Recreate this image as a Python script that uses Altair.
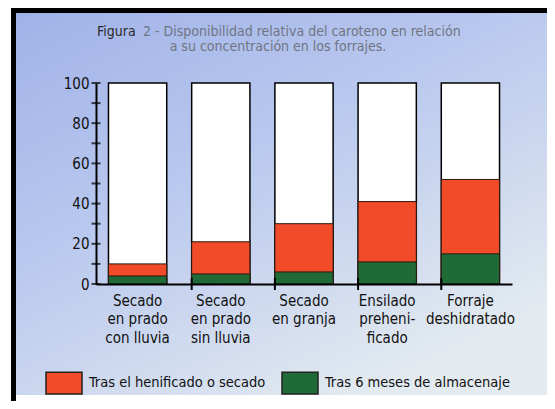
import altair as alt
import pandas as pd

categories = ["Secado|en prado|con lluvia", "Secado|en prado|sin lluvia",
              "Secado|en granja", "Ensilado|preheni-|ficado", "Forraje|deshidratado"]
red_vals = [10, 21, 30, 41, 52]      # Tras el henificado o secado
green_vals = [4, 5, 6, 11, 15]       # Tras 6 meses de almacenaje
total_vals = [100, 100, 100, 100, 100]
y_ticks = [0, 10, 20, 30, 40, 50, 60, 70, 80, 90, 100]
y_labels = [0, 20, 40, 60, 80, 100]
series = ["Tras el henificado o secado", "Tras 6 meses de almacenaje"]
title1a = "Figura"
title1b = "2 - Disponibilidad relativa del caroteno en relación"
title2 = "a su concentración en los forrajes."

FONT = "DejaVu Sans Condensed, sans-serif"
W, H = 416, 201
PL, PT, PR, PB = 88, 75, 35, 117

df = pd.DataFrame({"cat": categories, "total": total_vals})
df_bars = pd.DataFrame({
    "cat": categories * 2,
    "value": red_vals + green_vals,
    "serie": [series[0]] * 5 + [series[1]] * 5,
})
df_ticks = pd.DataFrame({"v": y_ticks})
one = pd.DataFrame({"a": [0]})

xenc = alt.X("cat:N", sort=categories, title=None,
             scale=alt.Scale(paddingInner=0.3, paddingOuter=0.15),
             axis=alt.Axis(labelExpr="split(datum.label, '|')", labelAngle=0,
                           labelFontSize=15, labelFont=FONT, labelColor="#111",
                           labelLineHeight=18.5, labelPadding=9, tickSize=0,
                           domainColor="black", domainWidth=2, labelBaseline="top",
                           zindex=1))
yscale = alt.Scale(domain=[0, 100], nice=False)

bg = alt.Chart(one).mark_rect(
    fill=alt.LinearGradient(gradient="linear",
                            stops=[alt.GradientStop(color="#a0b1e8", offset=0),
                                   alt.GradientStop(color="#b9c8ee", offset=0.45),
                                   alt.GradientStop(color="#e4ebf0", offset=1)],
                            x1=0, y1=0, x2=0.7, y2=1)
).encode(x=alt.value(-PL + 3), x2=alt.value(W + PR), y=alt.value(-PT + 2), y2=alt.value(H + PB - 6))

frame_left = alt.Chart(one).mark_rule(color="black", strokeWidth=5).encode(
    x=alt.value(-PL + 5.5), y=alt.value(-PT - 1), y2=alt.value(H + PB))
frame_top = alt.Chart(one).mark_rule(color="black", strokeWidth=5).encode(
    x=alt.value(-PL + 3), x2=alt.value(W + PR), y=alt.value(-PT + 2.5))

white = alt.Chart(df).mark_bar(fill="white", stroke="black", strokeWidth=1.5).encode(
    x=xenc,
    y=alt.Y("total:Q", scale=yscale, title=None,
            axis=alt.Axis(values=y_labels, tickSize=0, grid=False, labelFontSize=15,
                          labelFont=FONT, labelColor="#111", labelPadding=7,
                          domainColor="black", domainWidth=2, zindex=1)),
)

bars = alt.Chart(df_bars).mark_bar(stroke="#2a1a10", strokeWidth=1).encode(
    x=alt.X("cat:N", sort=categories),
    y=alt.Y("value:Q", scale=yscale, stack=None),
    color=alt.Color("serie:N", sort=series,
                    scale=alt.Scale(domain=series, range=["#f24b2a", "#1f6a36"]),
                    legend=alt.Legend(title=None, orient="none", direction="horizontal",
                                      legendX=-51, legendY=281,
                                      symbolType="M-1,-0.6H1V0.6H-1Z", symbolSize=1296,
                                      symbolStrokeColor="#222", symbolStrokeWidth=1.5,
                                      symbolOpacity=1,
                                      labelFontSize=14.5, labelFont=FONT, labelColor="#111",
                                      labelOffset=6, columnPadding=13, labelLimit=400)),
    order=alt.Order("value:Q", sort="descending"),
)

yt = alt.Chart(df_ticks).mark_tick(orient="horizontal", color="black", thickness=2, size=9).encode(
    y=alt.Y("v:Q", scale=yscale), x=alt.value(0))

xt = alt.Chart(df).transform_filter(alt.datum.cat != categories[0]).mark_rule(
    color="black", strokeWidth=2).encode(
    x=alt.X("cat:N", sort=categories, bandPosition=0),
    y=alt.value(H - 6), y2=alt.value(H + 6))

t1a = alt.Chart(one).mark_text(text=title1a, align="left", baseline="middle", font=FONT,
                               fontSize=14, color="#2a2a2a").encode(x=alt.value(1), y=alt.value(-51))
t1b = alt.Chart(one).mark_text(text=title1b, align="left", baseline="middle", font=FONT,
                               fontSize=14, color="#6f7582").encode(x=alt.value(47), y=alt.value(-51))
t2 = alt.Chart(one).mark_text(text=title2, align="center", baseline="middle", font=FONT,
                              fontSize=14, color="#6f7582").encode(x=alt.value(182), y=alt.value(-36))

chart = alt.layer(bg, frame_left, frame_top, white, bars, yt, xt, t1a, t1b, t2).properties(
    width=W, height=H,
    autosize=alt.AutoSizeParams(type="none"),
    padding={"left": PL, "top": PT, "right": PR, "bottom": PB},
).configure(background="white").configure_view(stroke=None)

chart.save("out.html", embed_options={"renderer": "svg", "actions": False})
